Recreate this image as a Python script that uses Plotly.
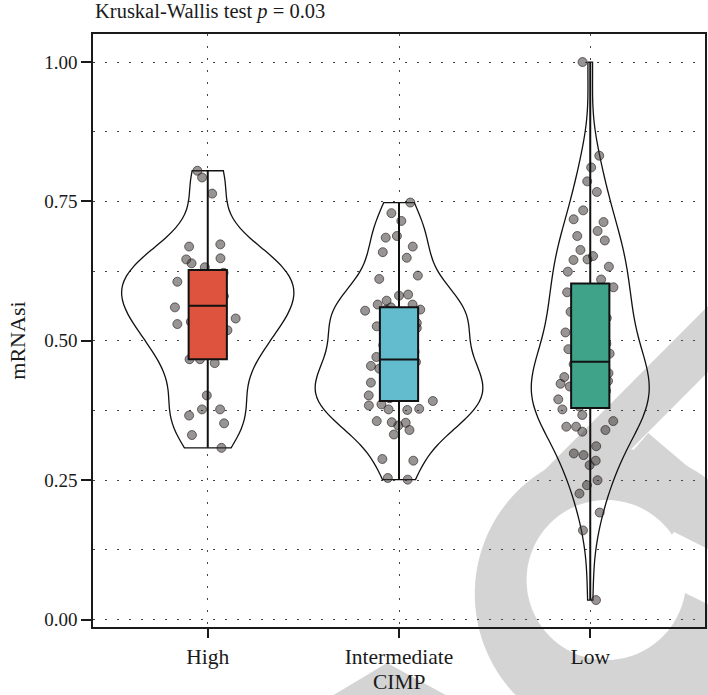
import numpy as np
import plotly.graph_objects as go

# CIMP groups and mRNAsi values per group
groups = ["High", "Intermediate", "Low"]

high = [0.805, 0.793, 0.764, 0.673, 0.669, 0.648, 0.646, 0.639, 0.632, 0.622,
        0.615, 0.612, 0.606, 0.585, 0.585, 0.580, 0.580, 0.566, 0.560, 0.541,
        0.540, 0.534, 0.530, 0.519, 0.484, 0.483, 0.467, 0.467, 0.460, 0.402,
        0.377, 0.377, 0.366, 0.352, 0.331, 0.308]

intermediate = [0.748, 0.729, 0.715, 0.688, 0.685, 0.669, 0.659, 0.649, 0.617, 0.611,
                0.583, 0.581, 0.572, 0.565, 0.565, 0.560, 0.556, 0.556, 0.554, 0.545,
                0.540, 0.532, 0.526, 0.523, 0.518, 0.512, 0.492, 0.485, 0.480, 0.480,
                0.471, 0.462, 0.455, 0.450, 0.445, 0.441, 0.437, 0.430, 0.425, 0.418,
                0.413, 0.410, 0.410, 0.406, 0.402, 0.397, 0.392, 0.386, 0.384, 0.378,
                0.377, 0.376, 0.356, 0.354, 0.353, 0.348, 0.340, 0.332, 0.288, 0.285,
                0.254, 0.251]

low = [1.000, 0.832, 0.811, 0.786, 0.767, 0.734, 0.718, 0.713, 0.697, 0.688,
       0.680, 0.663, 0.652, 0.646, 0.645, 0.633, 0.624, 0.610, 0.596, 0.587,
       0.585, 0.581, 0.575, 0.560, 0.552, 0.545, 0.541, 0.530, 0.515, 0.505,
       0.501, 0.495, 0.485, 0.477, 0.470, 0.467, 0.458, 0.452, 0.449, 0.442,
       0.435, 0.428, 0.423, 0.418, 0.414, 0.410, 0.405, 0.400, 0.395, 0.390,
       0.389, 0.389, 0.386, 0.382, 0.377, 0.367, 0.356, 0.346, 0.346, 0.340,
       0.337, 0.311, 0.298, 0.295, 0.285, 0.277, 0.250, 0.241, 0.226, 0.192,
       0.160, 0.035]

series = [high, intermediate, low]
box_colors = ["#DD533E", "#63BBCE", "#3EA389"]
violin_widths = [0.90, 0.875, 0.615]
jitter_halfwidth = 0.2   # horizontal spread of the points, in category units
box_width = 0.2

W, H = 708, 695
M_L, M_R, M_T, M_B = 93, 1, 34, 68

SERIF = "Liberation Serif"
INK = "#1a1a1a"
GRID = dict(gridcolor="#444444", gridwidth=1.2, griddash="2px,10px")
MARK_GREY = "#D4D4D4"


def nrd0(values):
    """Silverman's rule of thumb as used by R's density() default."""
    v = np.asarray(values, dtype=float)
    q1, q3 = np.percentile(v, [25, 75])
    spread = min(v.std(ddof=1), (q3 - q1) / 1.34)
    return 0.9 * spread * len(v) ** (-0.2)


def to_paper(points):
    """Pixel positions on the page -> paper coordinates of the plot area."""
    pw, ph = W - M_L - M_R, H - M_T - M_B
    return [((x - M_L) / pw, (H - M_B - y) / ph) for x, y in points]


def svg_path(points):
    pts = to_paper(points)
    return "M " + " L ".join(f"{x:.4f},{y:.4f}" for x, y in pts) + " Z"


def circle(cx, cy, r, n=144):
    t = np.linspace(0, 2 * np.pi, n, endpoint=False)
    return list(zip(cx + r * np.cos(t), cy + r * np.sin(t)))


fig = go.Figure()

# violins (outline only) with the jittered sample points
for name, vals, w in zip(groups, series, violin_widths):
    fig.add_trace(go.Violin(
        x=[name] * len(vals), y=vals,
        width=w, bandwidth=nrd0(vals), spanmode="hard",
        fillcolor="rgba(0,0,0,0)", line=dict(color="#111111", width=1.3),
        points="all", pointpos=0, jitter=jitter_halfwidth / (w / 2),
        marker=dict(size=9, color="rgba(60,50,50,0.52)",
                    line=dict(color="rgba(30,25,25,0.6)", width=1)),
        box_visible=False, meanline_visible=False,
        hoverinfo="skip", showlegend=False,
    ))

# boxplots drawn above the violins and points
for name, vals, col in zip(groups, series, box_colors):
    fig.add_trace(go.Box(
        x=[name] * len(vals), y=vals,
        width=box_width, fillcolor=col,
        line=dict(color="#111111", width=2),
        whiskerwidth=0, boxpoints=False, quartilemethod="linear",
        hoverinfo="skip", showlegend=False,
    ))

# light grey publisher mark behind the plot
mark_fill = [
    (circle(621, 594, 145), MARK_GREY),                                   # loop
    ([(500, 516), (800, 216), (800, 282), (566, 516)], MARK_GREY),         # upper arm
    ([(650, 433), (800, 560), (800, 622), (619, 469)], MARK_GREY),         # lower arm
    ([(326, 700), (388, 663), (456, 700)], MARK_GREY),                     # tail
    (circle(608, 580, 80), "white"),                                      # hole
    ([(676, 532), (720, 554), (720, 609), (687, 593), (640, 575)], "white"),  # opening
]
shapes = [
    dict(type="path", xref="paper", yref="paper", layer="below",
         path=svg_path(pts), fillcolor=col, line=dict(width=0))
    for pts, col in mark_fill
]

fig.update_layout(
    width=W, height=H,
    margin=dict(l=M_L, r=M_R, t=M_T, b=M_B),
    paper_bgcolor="white", plot_bgcolor="rgba(0,0,0,0)",
    font=dict(family=SERIF, color=INK, size=19),
    showlegend=False,
    violinmode="overlay", boxmode="overlay",
    shapes=shapes,
)

fig.update_xaxes(
    type="category", categoryorder="array", categoryarray=groups,
    range=[-0.6, 2.6],
    showgrid=True, **GRID, zeroline=False,
    showline=True, mirror=True, linecolor=INK, linewidth=1.6,
    ticks="outside", ticklen=9, tickwidth=2, tickcolor=INK,
    tickfont=dict(family=SERIF, size=21.5, color=INK),
)

fig.update_yaxes(
    range=[-0.0133, 1.0503],
    tick0=0, dtick=0.25, tickformat=".2f",
    showgrid=True, **GRID, zeroline=False,
    minor=dict(tick0=0, dtick=0.125, showgrid=True, ticks="", **GRID),
    showline=True, mirror=True, linecolor=INK, linewidth=1.6,
    ticks="outside", ticklen=10, tickwidth=2, tickcolor=INK,
    tickfont=dict(family=SERIF, size=19, color=INK),
)

fig.add_annotation(
    text="Kruskal-Wallis test <i>p</i> = 0.03",
    xref="paper", yref="paper", x=0, y=1.038,
    xanchor="left", yanchor="middle", showarrow=False,
    font=dict(family=SERIF, size=20.5, color=INK),
)
fig.add_annotation(
    text="CIMP", xref="paper", yref="paper", x=0.5, y=-0.092,
    xanchor="center", yanchor="middle", showarrow=False,
    font=dict(family=SERIF, size=21.5, color=INK),
)
fig.add_annotation(
    text="mRNAsi", xref="paper", yref="paper", x=-0.1228, y=0.4826,
    xanchor="center", yanchor="middle", textangle=-90, showarrow=False,
    font=dict(family=SERIF, size=22, color=INK),
)

fig.write_html("out.html")
